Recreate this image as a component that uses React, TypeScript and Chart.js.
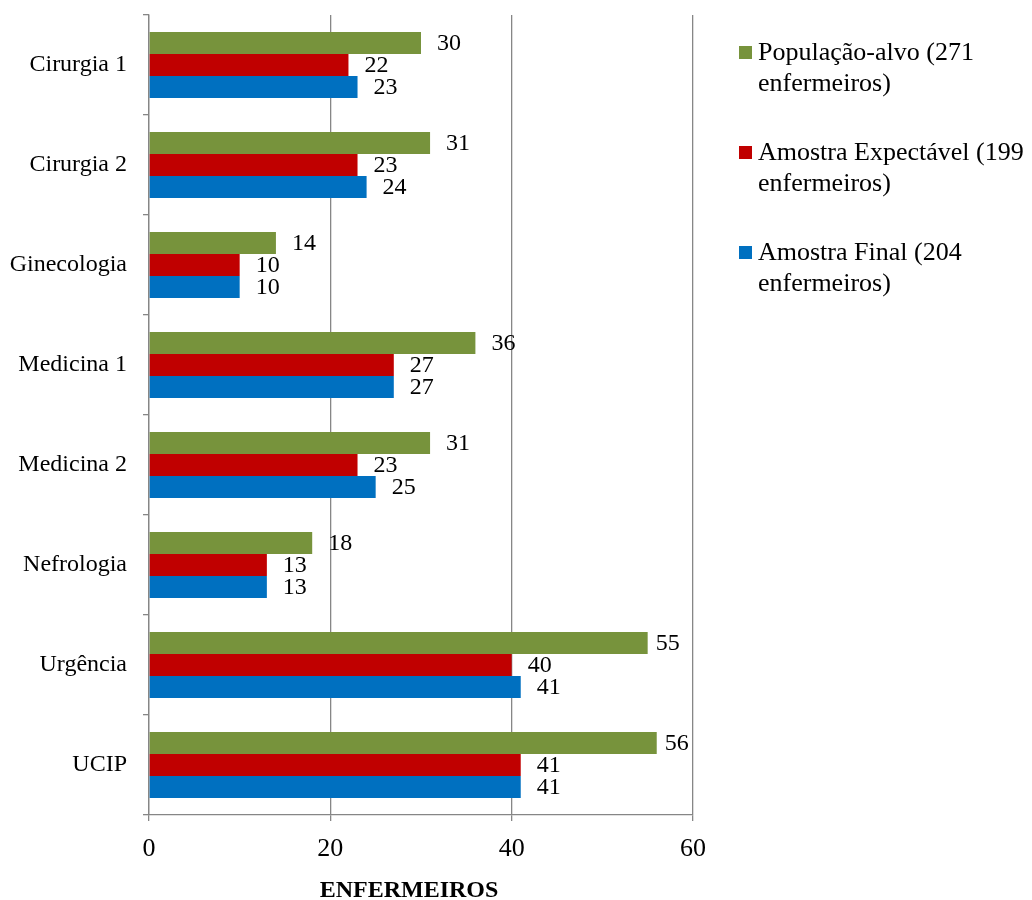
import React, { useEffect, useRef } from "react";
import { Chart, registerables } from "chart.js";

Chart.register(...registerables);

const categories = [
  "Cirurgia 1",
  "Cirurgia 2",
  "Ginecologia",
  "Medicina 1",
  "Medicina 2",
  "Nefrologia",
  "Urgência",
  "UCIP",
];

const populacaoAlvo = [30, 31, 14, 36, 31, 18, 55, 56];
const amostraExpectavel = [22, 23, 10, 27, 23, 13, 40, 41];
const amostraFinal = [23, 24, 10, 27, 25, 13, 41, 41];

const seriesNames = [
  ["População-alvo (271", "enfermeiros)"],
  ["Amostra Expectável (199", "enfermeiros)"],
  ["Amostra Final (204", "enfermeiros)"],
];
const seriesColors = ["#77933C", "#C00000", "#0070C0"];

const xTicks = [0, 20, 40, 60];
const axisTitle = "ENFERMEIROS";

const SERIF = '"Liberation Serif", "Times New Roman", serif';
const GRID = "#868686";

// Value labels just past the end of each bar
const valueLabels = {
  id: "valueLabels",
  afterDatasetsDraw(chart: any) {
    const { ctx, chartArea } = chart;
    ctx.save();
    ctx.font = `24px ${SERIF}`;
    ctx.fillStyle = "#000";
    ctx.textAlign = "left";
    ctx.textBaseline = "middle";
    chart.data.datasets.forEach((ds: any, di: number) => {
      const meta = chart.getDatasetMeta(di);
      meta.data.forEach((bar: any, i: number) => {
        const text = String(ds.data[i]);
        const w = ctx.measureText(text).width;
        let gap = 16;
        if (bar.x + gap + w > chartArea.right - 8) gap = 8;
        ctx.fillText(text, bar.x + gap, bar.y + 1);
      });
    });
    ctx.restore();
  },
};

// Legend on the right with wrapped labels, plus the axis title
const sideLegend = {
  id: "sideLegend",
  afterDraw(chart: any) {
    const { ctx, chartArea } = chart;
    ctx.save();
    const boxX = chartArea.right + 46;
    const textX = boxX + 19;
    seriesNames.forEach((lines, i) => {
      const y0 = 53 + i * 100;
      ctx.fillStyle = seriesColors[i];
      ctx.fillRect(boxX, y0 - 7, 13, 13);
      ctx.fillStyle = "#000";
      ctx.font = `26px ${SERIF}`;
      ctx.textAlign = "left";
      ctx.textBaseline = "middle";
      lines.forEach((line, li) => {
        ctx.fillText(line, textX, y0 + li * 31);
      });
    });
    ctx.font = `bold 24px ${SERIF}`;
    ctx.textAlign = "center";
    ctx.textBaseline = "alphabetic";
    ctx.fillText(axisTitle, chartArea.left + 260, 897);
    ctx.restore();
  },
};

export default function App() {
  const canvasRef = useRef<HTMLCanvasElement | null>(null);

  useEffect(() => {
    const canvas = canvasRef.current;
    if (!canvas) return;
    const chart = new Chart(canvas, {
      type: "bar",
      data: {
        labels: categories,
        datasets: [
          { label: seriesNames[0].join(" "), data: populacaoAlvo, backgroundColor: seriesColors[0] },
          { label: seriesNames[1].join(" "), data: amostraExpectavel, backgroundColor: seriesColors[1] },
          { label: seriesNames[2].join(" "), data: amostraFinal, backgroundColor: seriesColors[2] },
        ],
      },
      options: {
        indexAxis: "y",
        responsive: false,
        animation: false,
        maintainAspectRatio: false,
        layout: { padding: { top: 0, right: 339, left: 0, bottom: 0 } },
        datasets: {
          bar: { categoryPercentage: 0.66, barPercentage: 1 },
        },
        plugins: {
          legend: { display: false },
          tooltip: { enabled: false },
        },
        scales: {
          x: {
            type: "linear",
            min: 0,
            max: 60,
            afterBuildTicks(scale: any) {
              scale.ticks = xTicks.map((v) => ({ value: v }));
            },
            afterFit(scale: any) {
              scale.height = 85;
            },
            grid: {
              color: GRID,
              lineWidth: 1.3,
              tickLength: 6,
              drawTicks: true,
            },
            border: { display: true, color: GRID, width: 1.3 },
            ticks: {
              color: "#000",
              padding: 13,
              font: { family: SERIF, size: 26 },
            },
          },
          y: {
            type: "category",
            afterFit(scale: any) {
              scale.width = 149;
              scale.paddingTop = 15;
              scale.paddingBottom = 0;
            },
            grid: {
              offset: true,
              drawOnChartArea: false,
              drawTicks: true,
              tickLength: 6,
              color: GRID,
              lineWidth: 1.3,
            },
            border: { display: true, color: GRID, width: 1.3 },
            ticks: {
              color: "#000",
              padding: 16,
              font: { family: SERIF, size: 24 },
            },
          },
        },
      },
      plugins: [valueLabels, sideLegend],
    });
    return () => chart.destroy();
  }, []);

  return (
    <div style={{ position: "fixed", left: 0, top: 0, width: 1032, height: 900, background: "#fff" }}>
      <canvas ref={canvasRef} width={1032} height={900} />
    </div>
  );
}
